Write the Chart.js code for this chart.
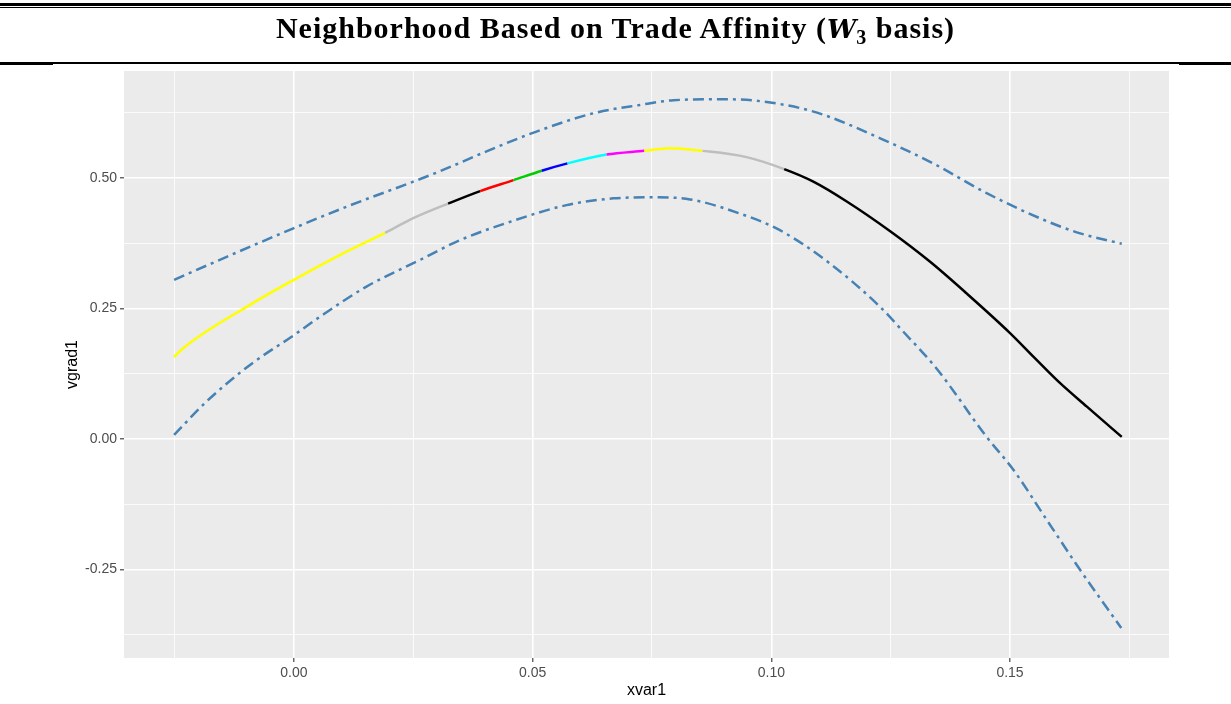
<!DOCTYPE html>
<html>
<head>
<meta charset="utf-8">
<script src="https://cdn.jsdelivr.net/npm/chart.js@4.4.0/dist/chart.umd.min.js"></script>
<style>
    body { margin: 0; background: #ffffff; width: 1231px; height: 704px; overflow: hidden; position: relative; }
    #gradChart { position: absolute; left: 0; top: 0; }
    .rule { position: absolute; background: #000000; }
    #title {
        position: absolute; left: 0; top: 12px; width: 1231px; text-align: center;
        font-family: "Liberation Serif", "Times New Roman", serif; font-weight: bold; font-size: 30px; line-height: 32px;
        letter-spacing: 1px; color: #000000;
    }
    #title i { font-family: "DejaVu Serif", serif; font-size: 26px; letter-spacing: 0; }
    #title sub { font-size: 20px; vertical-align: -6px; line-height: 0; }
</style>
</head>
<body>
<canvas id="gradChart" width="1231" height="704"></canvas>
<div class="rule" style="left:0; top:3px; width:1231px; height:2.6px;"></div>
<div class="rule" style="left:0; top:6.7px; width:1231px; height:1px;"></div>
<div id="title">Neighborhood Based on Trade Affinity (<i>W</i><sub>3</sub> basis)</div>
<div class="rule" style="left:0; top:62.4px; width:1231px; height:1.3px;"></div>
<div class="rule" style="left:0; top:62px; width:53px; height:2.7px;"></div>
<div class="rule" style="left:1179px; top:62px; width:52px; height:2.7px;"></div>
<script>
// fitted gradient curve
const fitX = [-0.0251, -0.0232, -0.0092, 0.0000, 0.0110, 0.0191, 0.0250, 0.0323, 0.0390, 0.0460, 0.0519, 0.0573, 0.0655, 0.0734, 0.0788, 0.0856, 0.0948, 0.1027, 0.1088, 0.1158, 0.1249, 0.1332, 0.1409, 0.1500, 0.1552, 0.1605, 0.1661, 0.1734];
const fitY = [0.157, 0.174, 0.257, 0.305, 0.359, 0.395, 0.423, 0.451, 0.475, 0.496, 0.514, 0.528, 0.545, 0.552, 0.557, 0.552, 0.540, 0.517, 0.493, 0.455, 0.398, 0.340, 0.279, 0.203, 0.155, 0.107, 0.062, 0.004];

// where the curve colour changes, and the colours in order
const colorBreaks = [0.0191, 0.0323, 0.0390, 0.0460, 0.0519, 0.0573, 0.0655, 0.0734, 0.0856, 0.1027];
const segColors = ['#FFFF00', '#BEBEBE', '#000000', '#FF0000', '#00CD00', '#0000FF', '#00FFFF', '#FF00FF', '#FFFF00', '#BEBEBE', '#000000'];

// upper and lower bands
const upperX = [-0.0251, -0.0141, 0.0000, 0.0110, 0.0250, 0.0306, 0.0411, 0.0508, 0.0627, 0.0725, 0.0795, 0.0899, 0.0969, 0.1060, 0.1116, 0.1228, 0.1339, 0.1451, 0.1570, 0.1647, 0.1734];
const upperY = [0.305, 0.349, 0.404, 0.445, 0.493, 0.513, 0.554, 0.589, 0.624, 0.640, 0.649, 0.651, 0.648, 0.634, 0.619, 0.576, 0.528, 0.471, 0.420, 0.394, 0.374];
const lowerX = [-0.0251, -0.0183, -0.0092, 0.0000, 0.0054, 0.0152, 0.0264, 0.0348, 0.0446, 0.0571, 0.0669, 0.0753, 0.0830, 0.0934, 0.1018, 0.1123, 0.1228, 0.1273, 0.1346, 0.1451, 0.1507, 0.1577, 0.1647, 0.1733];
const lowerY = [0.008, 0.072, 0.142, 0.199, 0.234, 0.292, 0.343, 0.381, 0.414, 0.448, 0.461, 0.463, 0.459, 0.432, 0.400, 0.336, 0.253, 0.209, 0.135, 0.004, -0.059, -0.155, -0.251, -0.362];

// axis ticks (major ones get labels)
const xTicks = [-0.025, 0, 0.025, 0.05, 0.075, 0.1, 0.125, 0.15, 0.175];
const yTicks = [-0.375, -0.25, -0.125, 0, 0.125, 0.25, 0.375, 0.5, 0.625];
const xMajor = 0.05;
const yMajor = 0.25;

function toPoints(xs, ys) {
    return xs.map((x, i) => ({ x: x, y: ys[i] }));
}

function isMajor(v, step) {
    const r = v / step;
    return Math.abs(r - Math.round(r)) < 1e-6;
}

function colorAt(x) {
    const idx = colorBreaks.filter(b => x >= b - 1e-9).length;
    return segColors[idx];
}

const panelBg = {
    id: 'panelBg',
    beforeDraw(chart) {
        const { ctx, chartArea } = chart;
        ctx.save();
        ctx.fillStyle = '#EBEBEB';
        ctx.fillRect(chartArea.left, chartArea.top, chartArea.right - chartArea.left, chartArea.bottom - chartArea.top);
        ctx.restore();
    }
};

function axisOptions(ticks, step, min, max, title) {
    return {
        type: 'linear',
        min: min,
        max: max,
        afterBuildTicks: scale => { scale.ticks = ticks.map(v => ({ value: v })); },
        border: { display: false },
        grid: {
            color: '#FFFFFF',
            lineWidth: c => (c.tick && isMajor(c.tick.value, step)) ? 1.6 : 0.8,
            tickColor: c => (c.tick && isMajor(c.tick.value, step)) ? '#333333' : 'rgba(0,0,0,0)',
            tickWidth: 1.1,
            tickLength: 4
        },
        ticks: {
            autoSkip: false,
            maxRotation: 0,
            padding: 3,
            color: '#4D4D4D',
            font: { family: '"Liberation Sans", Arial, sans-serif', size: 14 },
            callback: v => isMajor(v, step) ? v.toFixed(2) : ''
        },
        title: {
            display: true,
            text: title,
            color: '#000000',
            font: { family: '"Liberation Sans", Arial, sans-serif', size: 16 }
        }
    };
}

const xAxis = axisOptions(xTicks, xMajor, -0.0356, 0.1833, 'xvar1');
xAxis.afterFit = scale => { scale.height = 46; };
xAxis.title.padding = { top: 0, bottom: 4 };

const yAxis = axisOptions(yTicks, yMajor, -0.4195, 0.705, 'vgrad1');
yAxis.afterFit = scale => { scale.width = 124; };
yAxis.title.padding = { top: 63, bottom: 0 };

const bandStyle = {
    borderColor: '#4682B4',
    borderWidth: 2.5,
    borderDash: [11, 5, 3, 5],
    pointRadius: 0,
    cubicInterpolationMode: 'monotone',
    fill: false
};

const ctx = document.getElementById('gradChart').getContext('2d');
new Chart(ctx, {
    type: 'line',
    data: {
        datasets: [
            {
                label: 'vgrad1',
                data: toPoints(fitX, fitY),
                borderColor: '#000000',
                borderWidth: 2.5,
                pointRadius: 0,
                cubicInterpolationMode: 'monotone',
                fill: false,
                segment: {
                    borderColor: c => colorAt(c.p0.parsed.x)
                }
            },
            Object.assign({ label: 'upper', data: toPoints(upperX, upperY) }, bandStyle),
            Object.assign({ label: 'lower', data: toPoints(lowerX, lowerY) }, bandStyle)
        ]
    },
    options: {
        responsive: false,
        animation: false,
        devicePixelRatio: 1,
        layout: { padding: { top: 71, right: 62, left: 0, bottom: 0 } },
        plugins: {
            legend: { display: false },
            title: { display: false },
            tooltip: { enabled: false }
        },
        scales: {
            x: xAxis,
            y: yAxis
        }
    },
    plugins: [panelBg]
});
</script>
</body>
</html>
